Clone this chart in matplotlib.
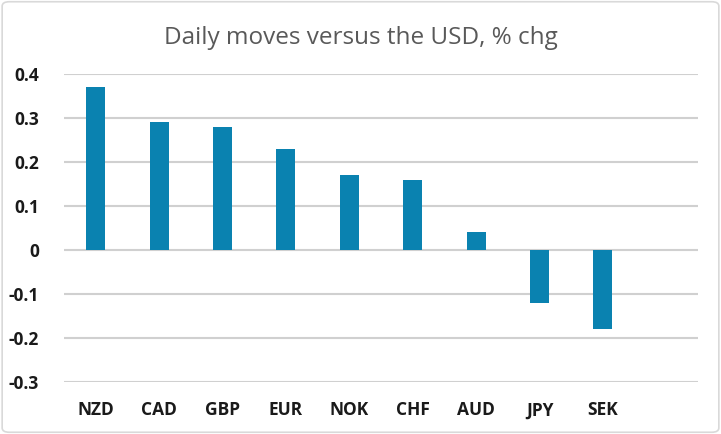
import matplotlib
matplotlib.use("Agg")
import matplotlib.pyplot as plt
from matplotlib.patches import FancyBboxPatch

categories = ["NZD", "CAD", "GBP", "EUR", "NOK", "CHF", "AUD", "JPY", "SEK"]
values = [0.37, 0.29, 0.28, 0.23, 0.17, 0.16, 0.04, -0.12, -0.18]
yticks = [-0.3, -0.2, -0.1, 0, 0.1, 0.2, 0.3, 0.4]
ytick_labels = ["-0.3", "-0.2", "-0.1", "0", "0.1", "0.2", "0.3", "0.4"]
title = "Daily moves versus the USD, % chg"

plt.rcParams['font.family'] = ['Open Sans', 'DejaVu Sans']

fig = plt.figure(figsize=(7.21, 4.34), dpi=100)
ax = fig.add_axes([64/721, (434-382)/434, (698-64)/721, (382-74)/434])

x = list(range(len(categories)))
ax.bar(x, values, width=0.3, color="#0A82B0", zorder=3)
ax.set_xlim(-0.5, 9.5)
ax.set_ylim(-0.3, 0.4)
ax.set_yticks(yticks)
ax.set_yticklabels(ytick_labels, fontsize=12.5, fontweight='bold', color='#1a1a1a')
ax.set_xticks(x)
ax.set_xticklabels(categories, fontsize=12.5, fontweight='bold', color='#1a1a1a')
ax.tick_params(axis='y', length=0, pad=18)
ax.tick_params(axis='x', length=0, pad=14)
ax.grid(axis='y', color='#D0D0D0', linewidth=1.5, zorder=0)
for s in ax.spines.values():
    s.set_visible(False)

fig.text(0.5, 1 - 38/434, title, ha='center', va='center', fontsize=17.5, color='#595959')

border = FancyBboxPatch((0.003, 0.004), 0.994, 0.992, boxstyle="round,pad=0,rounding_size=0.01",
                        transform=fig.transFigure, fill=False, edgecolor='#D9D9D9', linewidth=1.2)
fig.patches.append(border)

fig.savefig("out.png", dpi=100)
